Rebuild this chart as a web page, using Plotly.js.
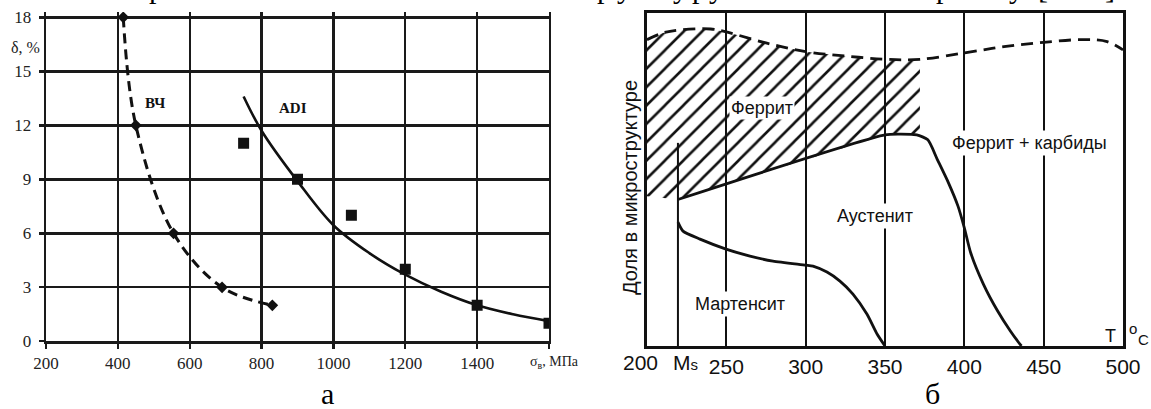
<!DOCTYPE html>
<html>
<head>
<meta charset="utf-8">
<script src="https://cdn.plot.ly/plotly-3.0.1.min.js"></script>
<style>
html,body{margin:0;padding:0;background:#fff;}
#chart{width:1151px;height:409px;}
</style>
</head>
<body>
<div id="chart"></div>
<script>
// ---------- Panel a: elongation vs. tensile strength ----------
const xTicksA = [200, 400, 600, 800, 1000, 1200, 1400, 1600];
const xTickTextA = ['200', '400', '600', '800', '1000', '1200', '1400', ' '];
const yTicksA = [0, 3, 6, 9, 12, 15, 18];

const bchX = [415, 450, 555, 690, 830];
const bchY = [18, 12, 6, 3, 2];

const adiX = [750, 900, 1050, 1200, 1400, 1600];
const adiY = [11, 9, 7, 4, 2, 1];

const adiFitX = [750, 800, 900, 1000, 1100, 1200, 1300, 1400, 1500, 1600];
const adiFitY = [13.6, 11.7, 8.9, 6.45, 4.9, 3.7, 2.75, 2.0, 1.5, 1.12];

// ---------- Panel б: microstructure vs. temperature ----------
const tTicksB = [250, 300, 350, 400, 450, 500];
const tTickTextB = ['250', '300', '350', '400', '450', '500'];
const tStartLabel = '200';
const msLabel = 'M<span style="font-size:15px">s</span>';
const tGridB = [250, 300, 350, 400, 450];
const msT = 219.5;
const msLineY = [0, 61];

const topT = [200, 210, 220, 240, 250, 275, 300, 325, 350, 372, 400, 425, 450, 475, 490, 500];
const topY = [92, 94, 94.9, 95.2, 94.3, 91, 88.4, 87.1, 86.1, 86.1, 88, 89.9, 91.2, 92, 91.4, 88.9];

const ferriteLowT = [200, 219.5, 350, 372];
const ferriteLowY = [45, 44, 63.4, 63.4];

const austT = [219.5, 350, 360, 370, 377, 383, 390, 396, 400, 404, 412, 421, 429, 434, 436];
const austY = [44, 63.4, 63.6, 63.4, 61.9, 56, 49, 42, 35.5, 28, 18.6, 10.5, 4.5, 1.2, 0];

const martT = [219.5, 222.7, 233.4, 249.8, 264.9, 279.4, 300.2, 304.6, 313.4, 321.6, 329.8, 338.6, 345, 350];
const martY = [37.2, 34.5, 32.1, 29.1, 27.0, 25.5, 24.3, 24.0, 22.2, 19.5, 15.6, 9.6, 3.6, 0];

// descender fragments of the cropped text line above the figure
const topFragText = ['р', 'р', 'у', 'у', 'р', 'у', 'р', 'у', '[', ']'];

// hatched ferrite region polygon built from the curves above
const nTop = topT.filter(t => t <= 372).length;
const hatchT = topT.slice(0, nTop).concat(ferriteLowT.slice().reverse());
const hatchY = topY.slice(0, nTop).concat(ferriteLowY.slice().reverse());

const INK = '#111';
const GRID_A = '#1a1a1a';
const serif = 'Liberation Serif, Times New Roman, serif';
const sans = 'Liberation Sans, Arial, sans-serif';

const traces = [
  // panel a
  {x: bchX, y: bchY, xaxis: 'x', yaxis: 'y', mode: 'lines+markers',
   line: {color: INK, width: 3, dash: '10px,6px', shape: 'spline', smoothing: 1},
   marker: {symbol: 'diamond', size: 9, color: INK}, hoverinfo: 'skip'},
  {x: adiFitX, y: adiFitY, xaxis: 'x', yaxis: 'y', mode: 'lines',
   line: {color: INK, width: 2.6, shape: 'spline'}, hoverinfo: 'skip'},
  {x: adiX, y: adiY, xaxis: 'x', yaxis: 'y', mode: 'markers',
   marker: {symbol: 'square', size: 11, color: INK}, hoverinfo: 'skip'},
  // panel б
  {x: hatchT, y: hatchY, xaxis: 'x2', yaxis: 'y2', mode: 'lines', fill: 'toself',
   fillcolor: 'rgba(0,0,0,0)', line: {width: 0, color: 'rgba(0,0,0,0)'},
   fillpattern: {shape: '/', fgcolor: INK, bgcolor: 'rgba(0,0,0,0)', size: 13, solidity: 0.2},
   hoverinfo: 'skip'},
  {x: topT, y: topY, xaxis: 'x2', yaxis: 'y2', mode: 'lines',
   line: {color: INK, width: 2.8, dash: '12px,7px', shape: 'spline'}, hoverinfo: 'skip'},
  {x: austT, y: austY, xaxis: 'x2', yaxis: 'y2', mode: 'lines',
   line: {color: INK, width: 2.8, shape: 'spline', smoothing: 0.6}, hoverinfo: 'skip'},
  {x: martT, y: martY, xaxis: 'x2', yaxis: 'y2', mode: 'lines',
   line: {color: INK, width: 2.8, shape: 'spline', smoothing: 0.6}, hoverinfo: 'skip'},
  {x: [msT, msT], y: msLineY, xaxis: 'x3', yaxis: 'y2', mode: 'lines',
   line: {color: INK, width: 2}, hoverinfo: 'skip'}
];

const W = 1151, H = 409;
const px = v => v / W;
const py = v => 1 - v / H;

const fragX = [156, 604, 624, 680, 699, 716, 943, 1016, 1043, 1110];
const fragAnn = topFragText.map((t, i) => ({
  xref: 'paper', yref: 'paper', x: px(fragX[i]), y: py(6), text: t, showarrow: false,
  font: {family: serif, size: 30, color: '#000'}, xanchor: 'center', yanchor: 'bottom'
}));

const layout = {
  width: W, height: H,
  margin: {l: 0, r: 0, t: 0, b: 0},
  paper_bgcolor: '#fff', plot_bgcolor: 'rgba(0,0,0,0)',
  showlegend: false,
  xaxis: {
    domain: [px(46), px(549)], range: [200, 1600], anchor: 'y',
    tickmode: 'array', tickvals: xTicksA, ticktext: xTickTextA, tickangle: 0,
    showgrid: true, gridcolor: GRID_A, gridwidth: 2.4,
    ticks: 'outside', ticklen: 5, tickwidth: 2.4, tickcolor: GRID_A,
    showline: true, linecolor: GRID_A, linewidth: 2.4, zeroline: false,
    tickfont: {family: serif, size: 17, color: '#222'}, fixedrange: true
  },
  yaxis: {
    domain: [py(341.3), py(11.9)], range: [0, 18.3], anchor: 'x',
    tickmode: 'array', tickvals: yTicksA, ticklabelstandoff: 4,
    showgrid: true, gridcolor: GRID_A, gridwidth: 2.4,
    ticks: 'outside', ticklen: 5, tickwidth: 2.4, tickcolor: GRID_A,
    showline: true, mirror: true, linecolor: GRID_A, linewidth: 2.4, zeroline: false,
    tickfont: {family: serif, size: 17, color: '#222'}, fixedrange: true
  },
  xaxis2: {
    domain: [px(647), px(1123)], range: [200, 500], anchor: 'y2',
    tickmode: 'array', tickvals: tTicksB, ticktext: tTickTextB, tickangle: 0,
    showgrid: false, ticks: '', showline: true, mirror: true,
    linecolor: INK, linewidth: 3, zeroline: false,
    tickfont: {family: sans, size: 21, color: INK}, fixedrange: true
  },
  xaxis3: {
    overlaying: 'x2', range: [200, 500], anchor: 'y2',
    tickmode: 'array', tickvals: tGridB, showticklabels: false,
    showgrid: true, gridcolor: INK, gridwidth: 2, ticks: '', zeroline: false,
    showline: false, fixedrange: true
  },
  yaxis2: {
    domain: [py(346), py(13)], range: [0, 100], anchor: 'x2',
    showticklabels: false, showgrid: false, ticks: '', zeroline: false,
    showline: true, mirror: true, linecolor: INK, linewidth: 3, fixedrange: true
  },
  annotations: [
    // panel a
    {xref: 'paper', yref: 'paper', x: px(25), y: py(47), text: 'δ, %', showarrow: false,
     font: {family: serif, size: 16, color: '#222'}, xanchor: 'center', yanchor: 'middle'},
    {xref: 'paper', yref: 'paper', x: px(528), y: py(362), text: 'σ<sub>в</sub>, МПа', showarrow: false,
     font: {family: serif, size: 14, color: '#222'}, xanchor: 'left', yanchor: 'middle'},
    {xref: 'paper', yref: 'paper', x: px(155), y: py(103), text: '<b>ВЧ</b>', showarrow: false,
     font: {family: serif, size: 15, color: INK}, xanchor: 'center', yanchor: 'middle'},
    {xref: 'paper', yref: 'paper', x: px(293), y: py(108), text: '<b>ADI</b>', showarrow: false,
     font: {family: serif, size: 15, color: INK}, xanchor: 'center', yanchor: 'middle'},
    {xref: 'paper', yref: 'paper', x: px(327), y: py(393), text: 'а', showarrow: false,
     font: {family: serif, size: 30, color: '#000'}, xanchor: 'center', yanchor: 'middle'},
    // panel б
    {xref: 'paper', yref: 'paper', x: px(640), y: py(362), text: tStartLabel, showarrow: false,
     font: {family: sans, size: 21, color: INK}, xanchor: 'center', yanchor: 'middle'},
    {xref: 'paper', yref: 'paper', x: px(685), y: py(362), text: msLabel, showarrow: false,
     font: {family: sans, size: 21, color: INK}, xanchor: 'center', yanchor: 'middle'},
    {xref: 'x2', yref: 'y2', x: 272.5, y: 71.5, text: 'Феррит', showarrow: false, bgcolor: '#fff',
     borderpad: 1, font: {family: sans, size: 18, color: INK}, xanchor: 'center', yanchor: 'middle'},
    {xref: 'x2', yref: 'y2', x: 441.3, y: 61, text: 'Феррит + карбиды', showarrow: false, bgcolor: '#fff',
     borderpad: 2, font: {family: sans, size: 18, color: INK}, xanchor: 'center', yanchor: 'middle'},
    {xref: 'x2', yref: 'y2', x: 343.7, y: 39, text: 'Аустенит', showarrow: false, bgcolor: '#fff',
     borderpad: 2, font: {family: sans, size: 18, color: INK}, xanchor: 'center', yanchor: 'middle'},
    {xref: 'x2', yref: 'y2', x: 258.6, y: 12.6, text: 'Мартенсит', showarrow: false, bgcolor: '#fff',
     borderpad: 2, font: {family: sans, size: 18, color: INK}, xanchor: 'center', yanchor: 'middle'},
    {xref: 'paper', yref: 'paper', x: px(630), y: py(188), text: 'Доля в микроструктуре', showarrow: false,
     textangle: -90, font: {family: sans, size: 20, color: INK}, xanchor: 'center', yanchor: 'middle'},
    {xref: 'paper', yref: 'paper', x: px(1110), y: py(336), text: 'T', showarrow: false,
     font: {family: sans, size: 18, color: INK}, xanchor: 'center', yanchor: 'middle'},
    {xref: 'paper', yref: 'paper', x: px(1133), y: py(328), text: 'o', showarrow: false,
     font: {family: sans, size: 15, color: INK}, xanchor: 'center', yanchor: 'middle'},
    {xref: 'paper', yref: 'paper', x: px(1143), y: py(339), text: 'C', showarrow: false,
     font: {family: sans, size: 15, color: INK}, xanchor: 'center', yanchor: 'middle'},
    {xref: 'paper', yref: 'paper', x: px(932), y: py(393), text: 'б', showarrow: false,
     font: {family: serif, size: 30, color: '#000'}, xanchor: 'center', yanchor: 'middle'}
  ].concat(fragAnn)
};

Plotly.newPlot('chart', traces, layout, {staticPlot: true, displayModeBar: false});
</script>
</body>
</html>
